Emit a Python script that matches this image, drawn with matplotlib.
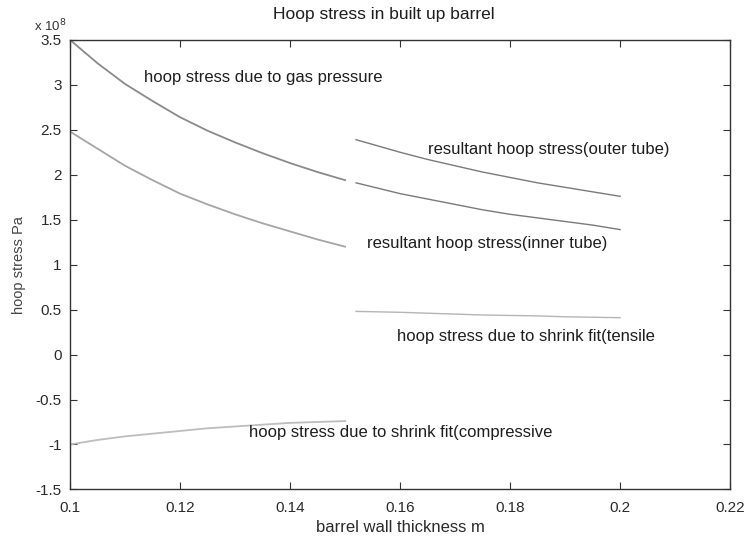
import matplotlib

matplotlib.use("Agg")
import matplotlib.pyplot as plt
from matplotlib.ticker import FormatStrFormatter

# wall positions (m)
x_inner = [0.100, 0.105, 0.110, 0.115, 0.120, 0.125, 0.130, 0.135, 0.140, 0.145, 0.150]
x_outer = [0.152, 0.156, 0.160, 0.165, 0.170, 0.175, 0.180, 0.185, 0.190, 0.195, 0.200]

# hoop stress, units of 1e8 Pa
gas_inner = [3.50, 3.24, 3.01, 2.82, 2.64, 2.49, 2.36, 2.24, 2.13, 2.03, 1.94]
gas_outer = [1.91, 1.85, 1.79, 1.73, 1.67, 1.61, 1.56, 1.52, 1.48, 1.44, 1.39]
shrink_compressive = [-1.00, -0.95, -0.91, -0.88, -0.85, -0.82, -0.80, -0.78, -0.76, -0.75, -0.74]
shrink_tensile = [0.48, 0.475, 0.47, 0.46, 0.45, 0.44, 0.435, 0.43, 0.42, 0.415, 0.41]
resultant_inner = [2.48, 2.29, 2.10, 1.94, 1.79, 1.67, 1.56, 1.46, 1.37, 1.28, 1.20]
resultant_outer = [2.39, 2.32, 2.25, 2.17, 2.10, 2.03, 1.97, 1.91, 1.86, 1.81, 1.76]

x_ticks = [0.1, 0.12, 0.14, 0.16, 0.18, 0.2, 0.22]
y_ticks = [-1.5, -1, -0.5, 0, 0.5, 1, 1.5, 2, 2.5, 3, 3.5]

plt.rcParams["font.family"] = ["Liberation Sans", "DejaVu Sans"]
plt.rcParams["axes.unicode_minus"] = False

fig = plt.figure(figsize=(7.45, 5.39), dpi=100)
ax = fig.add_axes([0.094, 0.092, 0.886, 0.834])

ax.plot(x_inner, gas_inner, color="#8a8a8a", lw=1.3)
ax.plot(x_outer, gas_outer, color="#7a7a7a", lw=1.0)
ax.plot(x_inner, resultant_inner, color="#a5a5a5", lw=1.3)
ax.plot(x_outer, resultant_outer, color="#7a7a7a", lw=1.0)
ax.plot(x_outer, shrink_tensile, color="#b5b5b5", lw=1.0)
ax.plot(x_inner, shrink_compressive, color="#bdbdbd", lw=1.3)

txt = dict(fontsize=12, color="#1e1e1e", va="center")
ax.text(0.1135, 3.08, "hoop stress due to gas pressure", **txt)
ax.text(0.1650, 2.28, "resultant hoop stress(outer tube)", **txt)
ax.text(0.1540, 1.23, "resultant hoop stress(inner tube)", **txt)
ax.text(0.1595, 0.20, "hoop stress due to shrink fit(tensile", **txt)
ax.text(0.1325, -0.87, "hoop stress due to shrink fit(compressive", **txt)

ax.set_xlim(0.1, 0.22)
ax.set_ylim(-1.5, 3.5)
ax.set_xticks(x_ticks)
ax.set_yticks(y_ticks)
ax.xaxis.set_major_formatter(FormatStrFormatter("%g"))
ax.yaxis.set_major_formatter(FormatStrFormatter("%g"))
ax.tick_params(direction="in", top=True, right=True, length=5,
               labelsize=11, colors="#333333", labelcolor="#2a2a2a")
ax.tick_params(axis="x", pad=8)
ax.tick_params(axis="y", pad=6)
for s in ax.spines.values():
    s.set_color("#333333")
    s.set_linewidth(1.0)

ax.text(-0.005, 1.012, "x 10$^8$", transform=ax.transAxes, fontsize=9.5,
        color="#333333", ha="right", va="bottom")

ax.set_title("Hoop stress in built up barrel", fontsize=12.5, color="#1e1e1e",
             pad=15, x=0.475)
ax.set_xlabel("barrel wall thickness m", fontsize=12, color="#2a2a2a", labelpad=4)
ax.set_ylabel("hoop stress Pa", fontsize=10.5, color="#444444", labelpad=7)

fig.savefig("out.png", dpi=100, facecolor="white")
